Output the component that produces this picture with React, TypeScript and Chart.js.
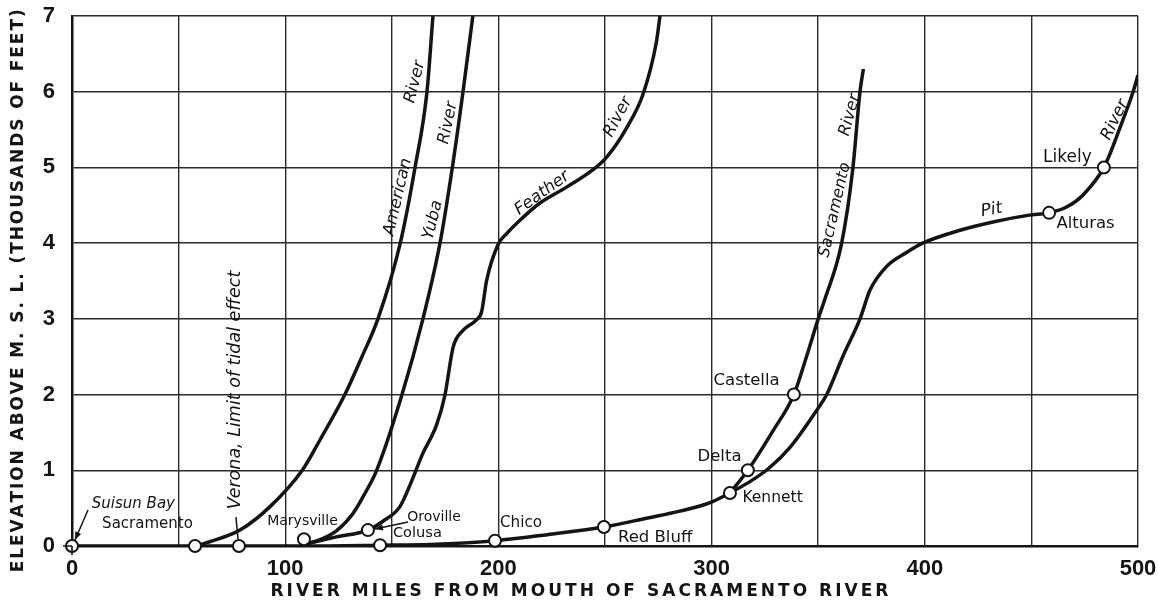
import React, { useEffect, useRef } from 'react';
import { Chart, registerables } from 'chart.js';

Chart.register(...registerables);

// ---- axis ticks ----
const xMajorTicks = [0, 100, 200, 300, 400, 500];
const yTickValues = [0, 1, 2, 3, 4, 5, 6, 7];

// ---- Sacramento River: Suisun Bay -> Kennett ----
const mainX = [0, 58, 79, 110, 144.5, 168, 198.5, 223, 249.5, 270, 285, 299, 308.6];
const mainY = [0, 0, 0, 0, 0.01, 0.02, 0.07, 0.15, 0.25, 0.37, 0.46, 0.57, 0.7];

// ---- Sacramento River above Kennett ----
const sacUpX = [308.6, 317, 329, 338.6, 344.5, 350, 353, 361, 366.3, 369.6, 371.2];
const sacUpY = [0.7, 1.0, 1.53, 2.0, 2.5, 3.0, 3.25, 4.0, 5.0, 6.0, 6.3];

// ---- Pit River ----
const pitX = [308.6, 318, 327, 337, 349.5, 354, 361.5, 369.6, 374.3, 382, 391.6, 399, 416.5, 432, 449, 458.3, 466.7, 474, 484, 491.6, 497.7, 500];
const pitY = [0.7, 0.85, 1.03, 1.31, 1.8, 2.0, 2.5, 3.0, 3.38, 3.69, 3.88, 4.0, 4.17, 4.28, 4.37, 4.4, 4.48, 4.63, 5.0, 5.53, 6.0, 6.22];

// ---- American River ----
const amX = [58, 69.4, 78.8, 92.9, 108, 116.3, 128, 136, 143.5, 153.8, 160.9, 166.5, 169.3];
const amY = [0, 0.1, 0.21, 0.52, 1.0, 1.4, 2.0, 2.5, 3.0, 3.98, 5.0, 6.0, 7.0];

// ---- Yuba River ----
const yubaX = [110, 116, 124, 131.8, 137.5, 142.9, 154.8, 164.6, 172.6, 178.4, 183.4, 188];
const yubaY = [0.03, 0.08, 0.2, 0.43, 0.7, 1.0, 2.0, 3.0, 4.0, 5.0, 6.0, 7.0];

// ---- Feather River ----
const featherX = [110, 124, 138.8, 146, 153.8, 159.5, 164.5, 171, 174.9, 178.8, 183.5, 189.8, 192.1, 194.5, 199.8, 204, 210, 219.5, 232, 244.4, 250.9, 260.3, 268, 274, 275.8];
const featherY = [0.03, 0.12, 0.21, 0.33, 0.52, 0.87, 1.22, 1.6, 1.99, 2.63, 2.85, 2.99, 3.09, 3.51, 3.98, 4.13, 4.3, 4.53, 4.74, 4.97, 5.14, 5.53, 5.98, 6.64, 7.0];

// ---- station markers (open circles) ----
const stationX = [0, 57.7, 78.3, 108.8, 138.8, 144.5, 198.4, 249.5, 308.6, 317, 338.6, 458.3, 484];
const stationY = [0, 0, 0, 0.09, 0.21, 0.01, 0.07, 0.25, 0.7, 1.0, 2.0, 4.4, 5.0];

// ---- text labels ----
const labelText = ['Suisun Bay', 'Sacramento', 'Verona, Limit of tidal effect', 'Marysville', 'Oroville', 'Colusa', 'Chico', 'Red Bluff', 'Kennett', 'Delta', 'Castella', 'Alturas', 'Likely', 'Pit', 'River', 'American', 'River', 'Yuba', 'River', 'Feather', 'River', 'Sacramento', 'River'];
const labelX = [28.8, 35.4, 76.9, 108.1, 169.8, 162, 210.6, 273.5, 328.6, 303.7, 316.4, 475.4, 466.9, 431.3, 489.2, 152.9, 160.9, 169.3, 176.4, 220.5, 256.1, 357.9, 364.9];
const labelY = [0.555, 0.29, 2.06, 0.33, 0.38, 0.17, 0.30, 0.106, 0.634, 1.176, 2.18, 4.253, 5.125, 4.438, 5.627, 4.61, 6.13, 4.306, 5.587, 4.66, 5.666, 4.438, 5.693];
const labelRot = [0, 0, -90, 0, 0, 0, 0, 0, 0, 0, 0, 0, 0, -10, -64, -77, -76, -76, -78, -36, -62, -77, -75];
const labelItalic = [true, false, true, false, false, false, false, false, false, false, false, false, false, true, true, true, true, true, true, true, true, true, true];
const labelSize = [15, 15, 17.5, 14, 14, 14.6, 15.2, 16.5, 15.5, 16.5, 16.5, 16.5, 17, 17, 16.5, 16.5, 16.5, 16.5, 16.5, 16.5, 16.5, 16, 16.5];

// ---- leader lines ----
const leaderFromX = [7.5, 157.6, 76.9];
const leaderFromY = [0.476, 0.317, 0.383];
const leaderToX = [1.4, 142.1, 77.9];
const leaderToY = [0.08, 0.225, 0.09];
const leaderArrow = [true, true, false];

const xTitle = 'RIVER MILES FROM MOUTH OF SACRAMENTO RIVER';
const yTitle = 'ELEVATION ABOVE M. S. L. (THOUSANDS OF FEET)';

const INK = '#141414';
const LABEL_FONT = "'DejaVu Sans', 'Liberation Sans', sans-serif";
const TICK_FONT = "'Liberation Sans', 'DejaVu Sans', sans-serif";

const pts = (xs: number[], ys: number[]) => xs.map((v, i) => ({ x: v, y: ys[i] }));

function drawSpaced(ctx: CanvasRenderingContext2D, text: string, cx: number, cy: number, width: number) {
  const chars = Array.from(text);
  const ws = chars.map((c) => ctx.measureText(c).width);
  const sum = ws.reduce((a, b) => a + b, 0);
  const gap = (width - sum) / (chars.length - 1);
  let xp = cx - width / 2;
  ctx.textAlign = 'left';
  ctx.textBaseline = 'middle';
  chars.forEach((c, i) => {
    ctx.fillText(c, xp, cy);
    xp += ws[i] + gap;
  });
}

const annotatePlugin = {
  id: 'annotate',
  afterDatasetsDraw(chart: any) {
    const ctx: CanvasRenderingContext2D = chart.ctx;
    const xs = chart.scales.x;
    const ys = chart.scales.y;
    ctx.save();
    ctx.fillStyle = INK;
    ctx.strokeStyle = INK;
    for (let i = 0; i < labelText.length; i++) {
      const px = xs.getPixelForValue(labelX[i]);
      const py = ys.getPixelForValue(labelY[i]);
      ctx.save();
      ctx.translate(px, py);
      ctx.rotate((labelRot[i] * Math.PI) / 180);
      ctx.font = `${labelItalic[i] ? 'italic ' : ''}${labelSize[i]}px ${LABEL_FONT}`;
      ctx.textAlign = 'center';
      ctx.textBaseline = 'middle';
      ctx.fillText(labelText[i], 0, 0);
      ctx.restore();
    }
    ctx.lineWidth = 1.5;
    for (let i = 0; i < leaderFromX.length; i++) {
      const x0 = xs.getPixelForValue(leaderFromX[i]);
      const y0 = ys.getPixelForValue(leaderFromY[i]);
      const x1 = xs.getPixelForValue(leaderToX[i]);
      const y1 = ys.getPixelForValue(leaderToY[i]);
      ctx.beginPath();
      ctx.moveTo(x0, y0);
      ctx.lineTo(x1, y1);
      ctx.stroke();
      if (leaderArrow[i]) {
        const a = Math.atan2(y1 - y0, x1 - x0);
        const L = 8, W = 3.2;
        ctx.beginPath();
        ctx.moveTo(x1, y1);
        ctx.lineTo(x1 - L * Math.cos(a) + W * Math.sin(a), y1 - L * Math.sin(a) - W * Math.cos(a));
        ctx.lineTo(x1 - L * Math.cos(a) - W * Math.sin(a), y1 - L * Math.sin(a) + W * Math.cos(a));
        ctx.closePath();
        ctx.fill();
      }
    }
    const ox = xs.getPixelForValue(0);
    const oy = ys.getPixelForValue(0);
    ctx.lineWidth = 1.6;
    ctx.beginPath();
    ctx.moveTo(ox - 9, oy);
    ctx.lineTo(ox, oy);
    ctx.moveTo(ox, oy);
    ctx.lineTo(ox, oy + 9);
    ctx.stroke();
    ctx.restore();
  },
  afterDraw(chart: any) {
    const ctx: CanvasRenderingContext2D = chart.ctx;
    const xs = chart.scales.x;
    const ys = chart.scales.y;
    ctx.save();
    ctx.fillStyle = INK;
    ctx.font = `bold 17px ${LABEL_FONT}`;
    drawSpaced(ctx, xTitle, xs.getPixelForValue(238), chart.height - 17, 618);
    ctx.translate(19, ys.getPixelForValue(3.37));
    ctx.rotate(-Math.PI / 2);
    drawSpaced(ctx, yTitle, 0, 0, 563);
    ctx.restore();
  },
};

export default function App() {
  const ref = useRef<HTMLCanvasElement>(null);
  useEffect(() => {
    const lineDs = (xs: number[], ys: number[]) => ({
      type: 'line' as const,
      data: pts(xs, ys),
      borderColor: INK,
      borderWidth: 3.5,
      pointRadius: 0,
      fill: false,
      cubicInterpolationMode: 'monotone' as const,
    });
    const chart = new Chart(ref.current!, {
      type: 'line',
      data: {
        datasets: [
          {
            type: 'line',
            data: pts(stationX, stationY),
            showLine: false,
            pointRadius: 6,
            pointBackgroundColor: '#ffffff',
            pointBorderColor: INK,
            pointBorderWidth: 2,
            clip: false,
          } as any,
          lineDs(mainX, mainY),
          lineDs(sacUpX, sacUpY),
          lineDs(pitX, pitY),
          lineDs(amX, amY),
          lineDs(yubaX, yubaY),
          lineDs(featherX, featherY),
        ],
      },
      options: {
        animation: false,
        responsive: false,
        layout: { padding: { top: 16, right: 20, left: 0, bottom: 0 } },
        plugins: { legend: { display: false }, tooltip: { enabled: false } },
        scales: {
          x: {
            type: 'linear',
            min: 0,
            max: 500,
            afterFit: (s: any) => { s.height = 63; s.paddingLeft = 0; s.paddingRight = 0; },
            afterBuildTicks: (s: any) => {
              const t = [];
              for (let v = 0; v <= 500; v += 50) t.push({ value: v });
              s.ticks = t;
            },
            ticks: {
              autoSkip: false,
              maxRotation: 0,
              padding: 10,
              color: INK,
              font: { family: TICK_FONT, size: 22, weight: 'bold' },
              callback: (v: any) => (xMajorTicks.includes(Number(v)) ? String(v) : ''),
            },
            grid: { color: '#2a2a2a', lineWidth: 1.4, drawTicks: false },
            border: { color: INK, width: 2.5 },
          },
          y: {
            type: 'linear',
            min: 0,
            max: 7,
            afterFit: (s: any) => { s.width = 72; s.paddingTop = 0; s.paddingBottom = 0; },
            afterBuildTicks: (s: any) => { s.ticks = yTickValues.map((v) => ({ value: v })); },
            ticks: {
              padding: 17,
              color: INK,
              font: { family: TICK_FONT, size: 22, weight: 'bold' },
            },
            grid: { color: '#2a2a2a', lineWidth: 1.4, drawTicks: false },
            border: { color: INK, width: 2.5 },
          },
        },
      } as any,
      plugins: [annotatePlugin],
    });
    return () => chart.destroy();
  }, []);
  return (
    <div style={{ position: 'fixed', left: 0, top: 0, width: 1158, height: 609, background: '#fff' }}>
      <canvas ref={ref} width={1158} height={609} style={{ display: 'block' }} />
    </div>
  );
}
